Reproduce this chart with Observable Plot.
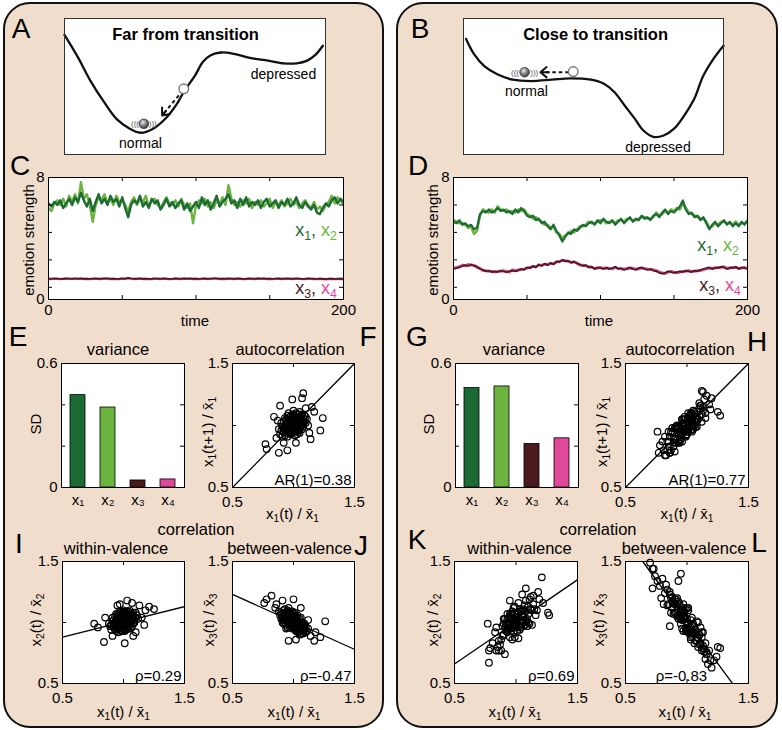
<!DOCTYPE html>
<html><head><meta charset="utf-8">
<script src="https://cdn.jsdelivr.net/npm/d3@7"></script>
<script src="https://cdn.jsdelivr.net/npm/@observablehq/plot@0.6"></script>
<style>
body{margin:0;background:#fff;font-family:"Liberation Sans",Arial,Helvetica,sans-serif;}
#root{position:relative;width:782px;height:730px;overflow:hidden;background:#fff;}
.panel{position:absolute;box-sizing:border-box;border:2.5px solid #111;border-radius:27px;background:#f1ddcc;}
.t{position:absolute;white-space:nowrap;transform:translate(-50%,-50%);line-height:1;color:#000;}
.rot{transform:translate(-50%,-50%) rotate(-90deg);}
sub{font-size:0.68em;vertical-align:-0.3em;line-height:0;}
</style></head>
<body><div id="root"></div>
<script>
// ---------------- DATA ----------------
const timeSteps = d3.range(0, 201, 2);

// Panel C (far from transition): emotion strength time series
const farX1 = [
6.3,6.1,6.4,6.2,6.5,6.0,6.3,6.6,6.2,6.7,
6.4,7.0,6.5,6.1,6.6,5.8,6.4,6.9,6.3,6.6,
6.2,6.8,6.4,6.6,6.1,6.7,6.0,5.4,6.2,6.5,
6.3,6.8,6.1,6.4,6.0,6.6,6.3,6.5,5.9,6.2,
6.6,6.1,6.4,6.0,6.3,6.5,5.9,6.3,5.8,6.1,
6.4,6.0,6.7,6.2,6.5,5.9,6.3,6.8,6.1,6.4,
6.6,6.9,6.3,6.5,6.0,6.6,6.2,6.7,6.1,6.4,
6.2,6.5,6.0,6.4,6.6,6.1,6.3,6.5,6.0,6.4,
6.2,6.6,6.1,6.3,6.7,6.2,6.0,6.4,6.1,5.9,
6.2,5.7,5.6,6.0,6.3,6.1,6.5,6.7,6.3,6.6,
6.4];
const farX2 = [
6.0,5.8,6.3,6.5,6.2,6.6,6.1,6.8,6.4,6.9,
6.3,7.7,6.6,6.9,6.2,5.1,6.2,6.7,6.5,6.9,
6.3,6.6,6.2,6.8,6.4,6.5,6.2,5.8,6.4,6.7,
6.2,6.6,6.4,6.8,6.1,6.5,6.6,6.2,6.0,6.4,
6.7,6.3,6.2,6.5,6.1,6.6,6.2,6.0,6.3,5.0,
6.2,6.5,6.3,6.6,6.1,6.4,6.0,6.5,6.3,6.7,
6.2,7.5,6.6,6.2,6.4,6.1,6.5,6.3,6.6,6.0,
6.4,6.2,6.5,6.1,6.3,6.6,6.0,6.4,6.2,6.5,
6.1,6.3,6.6,6.2,6.4,6.0,6.3,6.5,6.2,6.0,
6.4,5.9,6.1,5.8,6.2,6.4,6.8,6.3,6.7,6.5,
6.2];
const farX3 = [
1.37,1.36,1.38,1.37,1.35,1.36,1.38,1.37,1.36,1.39,
1.37,1.38,1.36,1.37,1.35,1.37,1.38,1.36,1.37,1.39,
1.38,1.36,1.37,1.35,1.36,1.38,1.37,1.42,1.38,1.36,
1.37,1.38,1.36,1.37,1.35,1.36,1.38,1.37,1.36,1.38,
1.37,1.35,1.36,1.38,1.37,1.36,1.39,1.37,1.38,1.36,
1.37,1.35,1.37,1.38,1.36,1.37,1.39,1.38,1.36,1.37,
1.36,1.38,1.37,1.36,1.38,1.37,1.35,1.36,1.38,1.37,
1.36,1.39,1.37,1.38,1.36,1.37,1.35,1.37,1.38,1.36,
1.37,1.38,1.37,1.36,1.38,1.37,1.35,1.36,1.38,1.37,
1.36,1.35,1.37,1.36,1.34,1.36,1.37,1.35,1.36,1.37,
1.36];
const farX4 = [
1.35,1.34,1.36,1.35,1.33,1.35,1.36,1.35,1.34,1.36,
1.35,1.36,1.34,1.35,1.33,1.35,1.36,1.34,1.35,1.36,
1.35,1.34,1.35,1.33,1.34,1.36,1.35,1.39,1.36,1.34,
1.35,1.36,1.34,1.35,1.33,1.34,1.36,1.35,1.34,1.36,
1.35,1.33,1.34,1.36,1.35,1.34,1.37,1.35,1.36,1.34,
1.35,1.33,1.35,1.36,1.34,1.35,1.37,1.36,1.34,1.35,
1.34,1.36,1.35,1.34,1.36,1.35,1.33,1.34,1.36,1.35,
1.34,1.37,1.35,1.36,1.34,1.35,1.33,1.35,1.36,1.34,
1.35,1.36,1.35,1.34,1.36,1.35,1.33,1.34,1.36,1.35,
1.34,1.33,1.35,1.34,1.32,1.34,1.35,1.33,1.34,1.35,
1.34];

// Panel D (close to transition)
const closeX1 = [
5.1,5.0,5.2,4.9,5.0,4.8,4.9,4.6,4.7,5.6,
5.8,5.7,5.9,5.7,5.8,6.0,5.8,5.9,5.7,5.8,
5.6,5.9,5.7,6.0,5.8,5.5,5.4,5.5,5.2,5.3,
5.0,5.1,4.8,4.6,4.9,4.5,4.2,3.8,4.1,4.4,
4.3,4.6,4.5,4.7,4.9,4.8,5.0,5.1,4.9,5.2,
5.0,5.3,5.1,5.0,5.2,4.9,5.1,5.3,5.0,5.2,
5.4,5.1,5.3,5.2,5.5,5.3,5.4,5.2,5.5,5.6,
5.4,5.7,5.9,5.6,5.8,5.7,5.9,6.1,6.5,5.9,
5.6,5.7,5.4,5.5,5.2,5.4,5.0,4.6,4.9,5.1,
4.8,5.0,5.2,4.9,5.1,4.8,5.0,4.8,5.1,4.9,
5.2];
const closeX2 = [
5.2,5.1,5.0,5.0,4.9,4.7,4.8,4.3,4.5,5.5,
5.9,5.8,5.7,5.9,5.7,6.1,5.9,5.8,5.9,5.7,
5.8,5.7,5.9,5.8,5.9,5.6,5.5,5.3,5.4,5.2,
5.1,4.9,4.9,4.7,4.8,4.4,4.3,4.0,4.2,4.3,
4.5,4.4,4.6,4.8,4.8,4.9,5.1,5.0,5.0,5.1,
5.2,5.2,5.0,5.1,5.1,5.0,5.2,5.2,5.1,5.3,
5.3,5.2,5.2,5.3,5.4,5.4,5.3,5.3,5.4,5.7,
5.5,5.6,5.8,5.7,5.9,5.8,6.0,5.9,6.3,6.0,
5.7,5.6,5.5,5.4,5.3,5.3,5.1,4.7,4.8,5.0,
4.9,5.1,5.1,5.0,5.0,4.9,5.1,4.9,5.0,5.0,
5.1];
const closeX3 = [
2.0,2.05,2.1,2.2,2.25,2.2,2.3,2.2,2.15,2.0,
1.95,1.85,1.9,1.8,1.85,1.8,1.9,1.85,1.8,1.85,
1.9,1.85,1.9,2.0,1.95,2.1,2.05,2.2,2.1,2.3,
2.2,2.35,2.25,2.4,2.3,2.5,2.45,2.6,2.5,2.55,
2.4,2.5,2.35,2.3,2.2,2.25,2.1,2.15,2.0,2.1,
2.05,2.0,2.1,2.0,2.05,2.15,2.0,2.05,1.95,2.0,
2.1,2.0,1.95,2.05,2.1,2.0,1.95,2.0,1.9,1.85,
1.75,1.7,1.75,1.85,1.8,1.75,1.8,1.85,1.8,1.9,
1.85,1.8,1.9,1.85,1.95,2.0,2.05,2.1,2.0,2.1,
2.05,2.15,2.1,2.0,2.1,2.05,2.15,2.0,2.1,2.05,
2.0];
const closeX4 = [
2.05,2.1,2.15,2.25,2.2,2.3,2.25,2.25,2.1,2.05,
1.9,1.9,1.85,1.85,1.8,1.85,1.85,1.9,1.85,1.8,
1.95,1.9,1.95,1.95,2.0,2.05,2.1,2.15,2.15,2.25,
2.25,2.3,2.3,2.35,2.35,2.45,2.5,2.55,2.55,2.5,
2.45,2.45,2.4,2.25,2.25,2.2,2.15,2.1,2.05,2.05,
2.1,2.05,2.05,2.05,2.0,2.1,2.05,2.0,2.0,2.05,
2.05,2.05,2.0,2.0,2.05,2.05,2.0,1.95,1.95,1.9,
1.8,1.75,1.7,1.8,1.85,1.8,1.75,1.8,1.85,1.85,
1.9,1.85,1.85,1.9,1.9,1.95,2.0,2.05,2.05,2.05,
2.1,2.1,2.15,2.05,2.05,2.1,2.1,2.05,2.05,2.1,
2.05];

// Panels E, G: standard deviations
const barNames = ["x\u2081", "x\u2082", "x\u2083", "x\u2084"];
const barColors = ["#1d6b34", "#6cb43f", "#4a1a1c", "#e0489a"];
const farSD = [0.447, 0.387, 0.034, 0.039];
const closeSD = [0.481, 0.489, 0.211, 0.238];

// Panels F, H: x1(t) vs x1(t+1), relative to mean
const farAR = [
[1.00,1.01],[0.97,0.99],[1.03,1.02],[0.95,0.97],[1.05,1.04],[0.99,1.06],[1.02,0.95],[0.93,1.00],[1.07,1.01],[0.98,0.93],
[1.01,1.08],[0.96,1.03],[1.04,0.98],[0.92,0.95],[1.08,1.06],[1.00,0.96],[0.94,1.05],[1.06,0.99],[0.99,1.02],[1.03,1.09],
[0.97,0.94],[1.02,1.04],[0.91,0.99],[1.09,1.03],[0.98,1.00],[1.05,0.94],[0.95,1.08],[1.01,0.98],[0.96,0.96],[1.04,1.07],
[0.93,0.92],[1.07,1.05],[1.00,1.04],[0.97,1.07],[1.03,0.96],[0.90,0.96],[1.10,1.02],[0.99,0.97],[1.02,1.01],[0.95,1.01],
[1.06,1.08],[0.98,1.05],[1.01,0.92],[0.94,0.98],[1.08,0.99],[0.96,1.10],[1.04,1.01],[0.92,1.03],[1.00,0.99],[1.05,1.11],
[0.97,1.02],[1.03,0.93],[0.89,0.93],[1.11,1.05],[0.99,1.09],[1.02,0.98],[0.95,0.94],[1.07,0.97],[0.98,0.97],[1.01,1.05],
[0.93,1.06],[1.06,1.02],[0.96,0.99],[1.04,1.04],[0.91,0.91],[1.09,1.08],[1.00,1.07],[0.97,0.96],[1.03,1.06],[0.94,1.02],
[1.12,1.00],[0.88,0.97],[1.05,0.97],[0.98,1.03],[1.02,1.10],[0.95,0.99],[1.08,1.03],[0.99,0.94],[1.01,1.03],[0.92,0.98],
[1.06,1.05],[0.96,1.06],[1.04,0.95],[0.97,1.00],[1.10,1.07],[0.90,1.02],[1.00,1.12],[1.03,1.00],[0.94,0.95],[1.07,1.09],
[0.99,1.00],[1.02,0.97],[0.93,0.97],[1.05,1.02],[0.98,0.98],[1.01,1.00],[0.96,1.04],[1.04,1.09],[0.95,0.91],[1.08,1.01],
[1.08,1.26],[1.07,1.22],[0.99,1.21],[0.89,1.16],[0.84,1.07],[1.15,1.15],[1.24,1.06],[0.77,0.85],[0.78,0.81],[0.88,0.78],
[0.95,0.80],[1.22,0.96],[1.14,0.89],[1.17,1.11],[0.86,0.90],[1.13,0.94],[0.87,1.04],[1.10,1.14],[0.92,0.86],[1.02,0.86]];
const closeAR = [
[0.80,0.87],[0.82,0.76],[0.84,0.87],[0.83,0.76],[0.86,0.91],[0.85,0.83],[0.88,0.98],[0.87,0.80],[0.89,0.90],[0.90,0.86],
[0.91,0.86],[0.92,1.00],[0.90,0.89],[0.93,0.97],[0.94,0.86],[0.92,0.98],[0.95,0.92],[0.96,1.05],[0.94,0.88],[0.97,0.99],
[0.98,1.02],[0.96,0.87],[0.99,1.05],[1.00,0.98],[0.97,1.05],[1.01,0.96],[1.02,1.03],[0.99,0.92],[1.03,1.08],[1.00,0.97],
[1.04,0.97],[1.02,1.05],[1.05,1.01],[1.01,1.10],[1.06,1.04],[1.03,1.09],[1.07,0.99],[1.04,1.06],[1.08,1.03],[1.05,1.12],
[1.09,1.11],[1.06,1.00],[1.10,1.18],[1.08,1.05],[1.11,1.16],[1.12,1.03],[1.10,1.14],[1.13,1.12],[1.14,1.21],[1.15,1.10],
[0.95,0.92],[0.98,1.05],[1.01,0.95],[0.93,0.94],[1.04,0.95],[0.97,1.02],[1.06,1.04],[0.91,0.99],[1.02,0.98],[0.99,1.02],
[0.88,0.94],[1.07,1.03],[0.96,1.05],[1.03,0.96],[0.94,0.96],[1.00,0.95],[0.97,1.00],[1.05,0.97],[0.92,0.99],[1.08,1.07],
[0.86,0.78],[1.11,1.16],[0.98,0.96],[1.01,1.07],[0.95,0.89],[1.04,1.05],[0.90,0.98],[1.09,1.05],[1.00,1.03],[0.93,0.86],
[1.06,1.11],[0.99,0.91],[1.02,1.06],[0.96,0.93],[1.03,1.10],[0.89,0.83],[1.13,1.15],[0.98,1.07],[1.05,1.00],[0.94,0.95],
[1.07,1.05],[0.91,0.97],[1.00,0.93],[0.97,1.01],[1.12,1.09],[0.87,0.95],[1.08,0.99],[1.01,1.06],[0.95,0.94],[1.04,1.10],
[0.77,0.78],[0.76,0.95],[0.78,0.84],[0.81,0.80],[0.84,0.80],[0.86,0.78],[0.90,0.79],[1.12,1.28],[1.13,1.27],[1.27,1.08],
[1.25,1.11],[1.20,1.22],[1.18,1.17],[1.16,1.24],[1.15,1.06],[0.85,0.95],[1.19,1.13],[0.82,0.91]];

// Panels I, K: within-valence (x1 vs x2); J, L: between-valence (x1 vs x3)
const farWithin = [
[1.00,1.00],[0.97,0.98],[1.03,1.03],[0.94,1.02],[1.06,0.99],[0.99,1.06],[1.02,0.94],[0.92,0.96],[1.08,1.05],[0.96,1.04],
[1.04,0.97],[0.98,0.93],[1.01,1.08],[0.93,0.99],[1.07,1.02],[0.95,0.95],[1.05,1.06],[1.00,0.97],[0.97,1.07],[1.03,0.99],
[0.91,1.01],[1.09,1.00],[0.99,1.02],[1.02,1.05],[0.96,0.92],[1.04,1.09],[0.94,0.97],[1.06,0.95],[0.98,1.03],[1.01,0.99],
[0.90,0.94],[1.10,1.04],[1.00,1.10],[0.97,0.95],[1.03,1.06],[0.93,1.05],[1.07,0.97],[0.99,0.96],[1.02,1.01],[0.95,1.00],
[1.05,1.03],[0.98,1.08],[1.01,0.93],[0.92,0.99],[1.08,1.08],[0.96,1.01],[1.04,1.00],[0.94,0.93],[1.06,1.07],[1.00,1.04],
[0.97,1.01],[1.03,0.95],[0.89,0.97],[1.11,1.06],[0.99,0.99],[1.02,1.09],[0.95,1.06],[1.05,0.98],[0.98,0.97],[1.01,1.03],
[0.93,0.94],[1.07,1.04],[0.96,0.98],[1.04,1.05],[0.91,1.04],[1.09,1.02],[1.00,0.94],[0.97,1.04],[1.03,1.01],[0.94,1.00],
[1.12,1.03],[0.88,0.99],[1.06,1.01],[0.98,0.99],[1.02,0.98],[0.95,0.97],[1.08,0.99],[0.99,1.09],[1.01,1.06],[0.92,1.02],
[1.05,1.10],[0.96,0.95],[1.04,1.03],[0.97,1.09],[1.10,1.08],[0.90,0.98],[1.00,1.02],[1.03,1.08],[0.94,1.07],[1.07,1.07],
[0.99,0.93],[1.02,1.03],[0.93,0.97],[1.05,1.00],[0.98,1.01],[1.01,1.01],[0.96,1.07],[1.04,0.95],[0.95,1.03],[1.08,1.03],
[0.76,0.99],[0.79,0.96],[0.84,0.84],[1.01,0.83],[0.91,0.89],[1.03,1.18],[0.97,1.15],[1.07,1.16],[1.18,1.10],[1.21,1.13],
[1.25,1.11],[1.15,1.04],[1.17,0.98],[1.08,0.89],[1.10,0.92],[0.85,1.04],[1.13,1.14],[0.95,1.14]];
const farBetween = [
[1.00,1.00],[0.96,1.03],[1.04,0.97],[0.93,1.05],[1.07,0.96],[0.99,1.06],[1.02,0.93],[0.94,0.98],[1.06,1.01],[0.97,1.08],
[1.03,0.95],[0.91,1.07],[1.09,0.94],[0.98,0.97],[1.01,1.04],[0.95,1.01],[1.05,0.99],[0.92,1.10],[1.08,0.91],[1.00,1.07],
[0.97,0.99],[1.03,1.02],[0.94,1.04],[1.06,0.94],[0.99,1.01],[1.02,0.97],[0.90,1.03],[1.10,0.97],[0.96,1.09],[1.04,0.92],
[0.93,1.00],[1.07,1.00],[0.98,1.05],[1.01,0.96],[0.95,1.07],[1.05,0.95],[0.92,1.02],[1.08,0.98],[1.00,0.95],[0.97,1.04],
[1.03,1.06],[0.94,1.08],[1.06,0.91],[0.99,0.98],[1.02,1.02],[0.89,1.06],[1.11,0.93],[0.96,1.00],[1.04,0.99],[0.93,1.11],
[1.07,0.93],[0.98,1.02],[1.01,1.08],[0.95,0.96],[1.05,1.03],[0.91,1.04],[1.09,0.96],[1.00,1.03],[0.97,0.96],[1.03,0.98],
[0.94,1.02],[1.06,0.97],[0.99,1.09],[1.02,0.94],[0.90,1.08],[1.10,0.92],[0.96,1.05],[1.04,1.01],[0.92,0.99],[1.08,0.95],
[0.98,0.99],[1.01,1.00],[0.95,1.04],[1.05,0.90],[0.93,1.07],[1.07,0.98],[1.00,1.05],[0.97,1.01],[1.03,0.93],[0.88,1.09],
[1.12,0.95],[0.94,0.95],[1.06,1.04],[0.99,0.95],[1.02,1.05],[0.96,1.12],[1.04,0.96],[0.91,1.00],[1.09,0.99],[0.98,1.07],
[1.01,0.98],[0.95,1.10],[1.05,0.97],[0.93,1.03],[1.07,0.95],[1.00,1.01],[0.97,1.06],[1.03,1.00],[0.92,1.06],[1.08,0.93],
[0.78,1.19],[0.76,1.16],[0.82,1.22],[0.91,1.18],[1.00,1.19],[0.86,1.15],[1.26,1.01],[1.17,0.85],[1.22,0.88],[0.96,0.85],
[1.14,0.89],[1.02,0.86],[0.85,1.12],[1.12,1.02],[1.18,0.92],[1.06,1.12]];
const closeWithin = [
[1.00,0.98],[0.96,1.03],[1.04,0.96],[0.92,0.99],[1.08,1.02],[0.98,1.12],[1.02,0.87],[0.94,1.04],[1.06,1.00],[0.90,0.99],
[1.10,1.13],[0.97,0.86],[1.03,1.11],[0.95,0.98],[1.05,1.06],[0.88,0.86],[1.12,1.11],[0.99,1.07],[1.01,1.00],[0.93,0.92],
[1.07,0.98],[0.96,1.07],[1.04,0.96],[0.91,1.03],[1.09,0.97],[0.98,0.96],[1.02,1.16],[0.86,0.85],[1.14,1.15],[1.00,0.96],
[0.94,1.00],[1.06,1.05],[0.97,1.09],[1.03,0.94],[0.89,0.97],[1.11,0.99],[0.95,0.95],[1.05,0.99],[0.99,1.13],[1.01,0.93],
[0.92,0.95],[1.08,1.18],[0.85,0.80],[1.15,1.11],[0.98,0.92],[1.02,1.05],[0.93,0.94],[1.07,1.10],[0.96,0.95],[1.04,1.09],
[0.90,0.90],[1.10,1.07],[1.00,1.04],[0.97,1.01],[1.03,1.02],[0.87,0.82],[1.13,1.10],[0.94,1.00],[1.06,1.11],[0.99,0.88],
[1.01,1.02],[0.91,0.96],[1.09,1.03],[0.95,1.07],[1.05,1.01],[0.84,0.96],[1.16,1.06],[0.98,0.99],[1.02,0.98],[0.93,1.07],
[1.07,1.14],[0.88,0.77],[1.12,1.11],[0.96,0.93],[1.04,1.09],[1.00,1.02],[0.92,0.93],[1.08,1.01],[0.97,1.07],[1.03,1.01],
[0.89,0.89],[1.11,1.19],[0.94,0.96],[1.06,1.02],[0.86,0.77],[1.14,1.22],[0.99,0.98],[1.01,1.08],[0.95,0.88],[1.05,1.10],
[0.90,1.03],[1.10,1.00],[0.98,1.02],[1.02,0.97],[0.83,0.92],[1.17,1.10],[0.93,1.03],[1.07,0.98],[0.97,0.99],[1.03,0.96],
[1.21,1.37],[0.78,0.67],[0.77,0.99],[0.91,0.74],[1.27,1.06],[1.08,1.28],[0.78,0.77],[0.79,0.79],[1.05,1.23],[1.12,1.21],
[1.19,1.19],[1.22,1.16],[0.81,0.83],[0.84,0.77],[1.18,1.25],[1.13,0.98],[0.95,1.18],[1.26,1.08]];
const closeBetween = [
[1.00,0.93],[0.96,1.08],[1.04,0.91],[0.92,1.20],[1.08,0.88],[0.98,1.04],[1.02,0.95],[0.94,1.06],[1.06,0.91],[0.90,1.19],
[1.10,0.82],[0.97,1.15],[1.03,0.86],[0.88,1.17],[1.12,0.77],[0.99,1.11],[1.01,0.92],[0.93,1.17],[1.07,0.85],[0.95,1.03],
[1.05,0.92],[0.86,1.23],[1.14,0.78],[0.98,1.09],[1.02,0.91],[0.91,1.15],[1.09,1.00],[0.96,0.95],[1.04,1.04],[0.84,1.14],
[1.16,0.76],[1.00,1.12],[0.94,1.05],[1.06,0.91],[0.89,1.07],[1.11,0.96],[0.97,0.93],[1.03,1.02],[0.92,1.05],[1.08,1.01],
[0.87,1.08],[1.13,0.92],[0.99,0.95],[1.01,1.12],[0.95,0.99],[1.05,0.99],[0.90,1.15],[1.10,0.90],[0.98,1.03],[1.02,0.93],
[0.85,1.15],[1.15,0.83],[0.93,1.03],[1.07,0.92],[1.00,0.94],[0.96,1.11],[1.04,0.89],[0.88,1.21],[1.12,0.79],[0.97,1.04],
[1.03,0.96],[0.91,1.08],[1.09,0.87],[0.94,1.15],[1.06,0.83],[0.82,1.24],[1.18,0.77],[0.99,1.01],[1.01,0.99],[0.95,1.03],
[1.05,0.97],[0.89,1.16],[1.11,0.83],[0.92,1.13],[1.08,0.85],[0.86,1.25],[1.14,0.76],[0.98,1.05],[1.02,0.94],[0.93,1.06],
[1.07,0.94],[0.87,1.20],[1.13,0.81],[1.00,1.03],[0.96,1.02],[1.04,0.98],[0.90,1.08],[1.10,0.90],[0.84,1.27],[1.16,0.74],
[0.97,1.12],[1.03,0.88],[0.91,1.19],[1.09,0.80],[0.95,1.09],[1.05,0.91],[0.99,0.93],[1.01,1.10],[0.88,1.12],[1.12,0.88],
[0.70,1.49],[0.72,1.44],[0.73,1.44],[0.76,1.34],[0.74,1.38],[0.78,1.30],[0.80,1.36],[0.72,1.28],[0.81,1.15],[0.83,1.31],
[1.19,0.69],[1.22,0.69],[1.20,0.63],[1.24,0.72],[1.27,0.79],[1.17,0.66],[1.15,0.70],[1.12,0.92],[1.25,0.80],[0.79,1.20],
[0.93,1.34],[0.86,0.97],[0.95,1.40]];

// fitted lines (end points)
const diagonalFit = [[0.5,0.5],[1.5,1.5]];
const farWithinFit = [[0.5,0.88],[1.5,1.13]];
const farBetweenFit = [[0.5,1.23],[1.5,0.78]];
const closeWithinFit = [[0.5,0.66],[1.5,1.35]];
const closeBetweenFit = [[0.64,1.5],[1.37,0.5]];

// Panels A, B: potential landscapes (position, potential), schematic
const farLandscape = [[0.00,0.88],[0.05,0.72],[0.10,0.54],[0.15,0.39],[0.20,0.26],[0.25,0.19],[0.29,0.16],[0.34,0.19],[0.39,0.27],[0.43,0.37],[0.46,0.47],[0.50,0.58],[0.53,0.68],[0.56,0.73],[0.60,0.75],[0.65,0.74],[0.71,0.71],[0.78,0.69],[0.84,0.67],[0.89,0.67],[0.93,0.69],[0.96,0.73],[0.99,0.80]];
const closeLandscape = [[0.01,0.85],[0.04,0.74],[0.08,0.65],[0.13,0.59],[0.19,0.55],[0.26,0.54],[0.34,0.55],[0.41,0.56],[0.49,0.55],[0.54,0.52],[0.58,0.46],[0.62,0.36],[0.66,0.26],[0.69,0.18],[0.73,0.13],[0.77,0.14],[0.81,0.19],[0.85,0.29],[0.89,0.42],[0.92,0.57],[0.96,0.70],[1.00,0.80]];
const farBall = {x:0.304, y:0.226}, farHollow = {x:0.457, y:0.483};
const farArrow = {x1:0.438, y1:0.434, x2:0.374, y2:0.287};
const farVib = [{x:0.270, y:0.226, t:"((("}, {x:0.338, y:0.226, t:")))"}];
const farLabels = [{x:0.291, y:0.081, text:"normal"}, {x:0.839, y:0.588, text:"depressed"}];
const farTitle = {x:0.464, y:0.882, text:"Far from transition"};
const closeBall = {x:0.235, y:0.605}, closeHollow = {x:0.422, y:0.610};
const closeArrow = {x1:0.405, y1:0.605, x2:0.296, y2:0.605};
const closeVib = [{x:0.198, y:0.605, t:"((("}, {x:0.272, y:0.605, t:")))"}];
const closeLabels = [{x:0.242, y:0.463, text:"normal"}, {x:0.748, y:0.048, text:"depressed"}];
const closeTitle = {x:0.508, y:0.882, text:"Close to transition"};

// ticks
const timeTicks = [50, 100, 150], timeLabels = [0, 200];
const levelTicks = [0.8, 2.6, 4.4, 6.2], levelLabels = [0, 8];
const sdTicks = [0.2, 0.4], sdLabels = [0, 0.6];
const unitTicks = [1], unitLabels = [0.5, 1.5];

// ---------------- DRAWING ----------------
const root = document.getElementById("root");
const FONT = '"Liberation Sans", Arial, Helvetica, sans-serif';
const DG = barColors[0], LG = barColors[1], BR = barColors[2], PK = barColors[3];
const baseStyle = {background: "transparent", fontFamily: FONT, fontSize: "15px", color: "black", overflow: "visible"};

for (const p of [[3,2,381,726],[396,2,382,726]]) {
  const d = document.createElement("div"); d.className = "panel";
  Object.assign(d.style, {left: p[0]+"px", top: p[1]+"px", width: p[2]+"px", height: p[3]+"px"});
  root.appendChild(d);
}

function place(svg, left, top) {
  svg.style.position = "absolute"; svg.style.left = left + "px"; svg.style.top = top + "px";
  svg.style.background = "transparent"; svg.style.maxWidth = "none"; svg.style.overflow = "visible";
  root.appendChild(svg);
}
function inwardTicks(xt, yt, W, H, len = 4) {
  const o = {stroke: "black", strokeWidth: 1};
  const m = [];
  if (xt) m.push(Plot.tickX(xt, {x: d => d, insetTop: H - len, ...o}), Plot.tickX(xt, {x: d => d, insetBottom: H - len, ...o}));
  if (yt) m.push(Plot.tickY(yt, {y: d => d, insetRight: W - len, ...o}), Plot.tickY(yt, {y: d => d, insetLeft: W - len, ...o}));
  return m;
}

function landscape(L, box, gid) {
  const [bx, by, W, H] = box;
  const svg = Plot.plot({
    width: W, height: H, margin: 0,
    x: {domain: [0, 1], axis: null}, y: {domain: [0, 1], axis: null},
    style: baseStyle,
    marks: [
      Plot.frame({fill: "white"}),
      Plot.line(L.curve, {x: d => d[0], y: d => d[1], curve: "catmull-rom", stroke: "#111", strokeWidth: 2.3}),
      Plot.link([L.arrow], {x1: "x1", y1: "y1", x2: "x2", y2: "y2", stroke: "#111", strokeWidth: 2, strokeDasharray: "3.5,3"}),
      Plot.arrow([L.arrow], {x1: "x1", y1: "y1", x2: "x2", y2: "y2", stroke: "#111", strokeWidth: 2, headLength: 6, headAngle: 80, insetStart: 20}),
      Plot.dot([L.hollow], {x: "x", y: "y", r: 4.8, fill: "white", stroke: "#777", strokeWidth: 1.4}),
      Plot.text(L.vib, {x: "x", y: "y", text: "t", fontSize: 8, fill: "#555"}),
      Plot.dot([L.ball], {x: "x", y: "y", r: 4.8, fill: `url(#${gid})`, stroke: "#333", strokeWidth: 0.8}),
      Plot.text(L.labels, {x: "x", y: "y", text: "text", fontSize: 14}),
      Plot.text([L.title], {x: "x", y: "y", text: "text", fontSize: 16.5, fontWeight: "bold"}),
      Plot.frame({stroke: "#333"})
    ]
  });
  d3.select(svg).insert("defs", ":first-child").html(`<radialGradient id="${gid}" cx="0.4" cy="0.35" r="0.65"><stop offset="0" stop-color="#eeeeee"/><stop offset="0.55" stop-color="#808080"/><stop offset="1" stop-color="#3a3a3a"/></radialGradient>`);
  place(svg, bx, by);
}

function timePlot(series, box) {
  const [bx, by, W, H] = box;
  const mL = 30, mR = 18, mT = 8, mB = 24;
  const marks = [Plot.frame({fill: "white"})];
  for (const s of series) marks.push(Plot.line(s.values, {x: (d, i) => timeSteps[i], y: d => d, stroke: s.color, strokeWidth: s.width, strokeLinejoin: "round", clip: true}));
  marks.push(...inwardTicks(timeTicks, levelTicks, W, H),
    Plot.axisX(timeLabels, {tickSize: 0, tickPadding: 5, label: null, tickFormat: d => String(d)}),
    Plot.axisY(levelLabels, {tickSize: 0, tickPadding: 4, label: null, tickFormat: d => String(d)}),
    Plot.frame({stroke: "black"}));
  const svg = Plot.plot({width: W + mL + mR, height: H + mT + mB, marginLeft: mL, marginRight: mR, marginTop: mT, marginBottom: mB,
    x: {domain: [0, 200]}, y: {domain: [0, 8]}, style: baseStyle, marks});
  place(svg, bx - mL, by - mT);
}

function barPlot(sd, box) {
  const [bx, by, W, H] = box;
  const mL = 32, mR = 8, mT = 8, mB = 26;
  const data = barNames.map((name, i) => ({name, sd: sd[i], color: barColors[i]}));
  const svg = Plot.plot({width: W + mL + mR, height: H + mT + mB, marginLeft: mL, marginRight: mR, marginTop: mT, marginBottom: mB,
    x: {type: "band", domain: barNames, paddingInner: 0.5, paddingOuter: 0.25}, y: {domain: [0, 0.6]}, color: {type: "identity"},
    style: baseStyle,
    marks: [
      Plot.frame({fill: "white"}),
      Plot.barY(data, {x: "name", y: "sd", fill: "color", stroke: "black", strokeWidth: 0.8}),
      ...inwardTicks(null, sdTicks, W, H),
      Plot.axisX({tickSize: 0, tickPadding: 7, label: null}),
      Plot.axisY(sdLabels, {tickSize: 0, tickPadding: 4, label: null, tickFormat: d => String(d)}),
      Plot.frame({stroke: "black"})
    ]});
  place(svg, bx - mL, by - mT);
}

function scatterPlot(points, fit, note, box) {
  const [bx, by, W, H] = box;
  const mL = 32, mR = 16, mT = 8, mB = 28;
  const noteMark = note.x == null
    ? Plot.text([note], {text: "text", frameAnchor: "bottom-right", dx: -3, dy: -3, textAnchor: "end", lineAnchor: "bottom"})
    : Plot.text([note], {text: "text", x: "x", frameAnchor: "bottom", dy: -3, lineAnchor: "bottom"});
  const svg = Plot.plot({width: W + mL + mR, height: H + mT + mB, marginLeft: mL, marginRight: mR, marginTop: mT, marginBottom: mB,
    x: {domain: [0.5, 1.5]}, y: {domain: [0.5, 1.5]}, style: baseStyle,
    marks: [
      Plot.frame({fill: "white"}),
      Plot.line(fit, {x: d => d[0], y: d => d[1], stroke: "black", strokeWidth: 1.3, clip: true}),
      Plot.dot(points, {x: d => d[0], y: d => d[1], r: 3.3, stroke: "black", strokeWidth: 1.2, fill: "none"}),
      ...inwardTicks(unitTicks, unitTicks, W, H),
      Plot.axisX(unitLabels, {tickSize: 0, tickPadding: 9, label: null, tickFormat: d => String(d)}),
      Plot.axisY(unitLabels, {tickSize: 0, tickPadding: 4, label: null, tickFormat: d => String(d)}),
      noteMark,
      Plot.frame({stroke: "black"})
    ]});
  place(svg, bx - mL, by - mT);
}

// A, B
landscape({curve: farLandscape, ball: farBall, hollow: farHollow, arrow: farArrow, vib: farVib, labels: farLabels, title: farTitle}, [64, 18, 261, 136], "ballA");
landscape({curve: closeLandscape, ball: closeBall, hollow: closeHollow, arrow: closeArrow, vib: closeVib, labels: closeLabels, title: closeTitle}, [463, 18, 260, 136], "ballB");
// C, D
timePlot([{values: farX2, color: LG, width: 2.4}, {values: farX1, color: DG, width: 2.4}, {values: farX4, color: PK, width: 2.2}, {values: farX3, color: BR, width: 1.8}], [48, 177, 295, 122]);
timePlot([{values: closeX2, color: LG, width: 2.6}, {values: closeX1, color: DG, width: 2.2}, {values: closeX4, color: PK, width: 2.8}, {values: closeX3, color: BR, width: 1.8}], [453, 177, 294, 122]);
// E, G
barPlot(farSD, [61, 363, 123, 124]);
barPlot(closeSD, [455, 363, 123, 124]);
// F, H
scatterPlot(farAR, diagonalFit, {text: "AR(1)=0.38"}, [232, 363, 122, 124]);
scatterPlot(closeAR, diagonalFit, {text: "AR(1)=0.77"}, [625, 363, 123, 124]);
// I, J, K, L
scatterPlot(farWithin, farWithinFit, {text: "\u03c1=0.29"}, [62, 561, 122, 122]);
scatterPlot(farBetween, farBetweenFit, {text: "\u03c1=-0.47"}, [232, 561, 122, 122]);
scatterPlot(closeWithin, closeWithinFit, {text: "\u03c1=0.69"}, [454, 561, 123, 122]);
scatterPlot(closeBetween, closeBetweenFit, {text: "\u03c1=-0.83", x: 0.955}, [625, 561, 123, 122]);

// ---------------- TEXT ----------------
function label(html, x, y, size, o = {}) {
  const d = document.createElement("div");
  d.className = "t" + (o.rot ? " rot" : "");
  d.innerHTML = html;
  d.style.left = x + "px"; d.style.top = y + "px"; d.style.fontSize = size + "px";
  if (o.bold) d.style.fontWeight = "bold";
  root.appendChild(d);
}
const sub = n => `<sub>${n}</sub>`;
const xbar = n => `x\u0304${sub(n)}`;
const col = (c, s) => `<span style="color:${c}">${s}</span>`;

for (const [s, x, y] of [["A",21,29],["B",420,29],["C",20,166],["D",418,166],["E",18,337],["F",368,337],["G",417,337],["H",757,342],["I",19,544],["J",361,546],["K",417,540],["L",759,543]]) label(s, x, y, 28);

for (const dx of [0, 1]) {
  label("emotion strength", dx ? 432 : 28, 240, 15, {rot: true});
  label("time", dx ? 599 : 195, 320, 15);
  label("variance", dx ? 514 : 118, 349, 16.5);
  label("autocorrelation", dx ? 680 : 290, 349, 16.5);
  label("SD", dx ? 428 : 35, 424, 15, {rot: true});
  label(`x${sub(1)}(t+1) / ${xbar(1)}`, dx ? 601 : 207, 432, 15, {rot: true});
  label(`x${sub(1)}(t) / ${xbar(1)}`, dx ? 687 : 292.5, 513, 15);
  label("correlation", dx ? 598 : 196, 529, 16.5);
  label("within-valence", dx ? 519.5 : 116, 548, 16.5);
  label("between-valence", dx ? 684 : 289.5, 548, 16.5);
  label(`x${sub(2)}(t) / ${xbar(2)}`, dx ? 432 : 35, 620, 15, {rot: true});
  label(`x${sub(3)}(t) / ${xbar(3)}`, dx ? 598 : 208, 620, 15, {rot: true});
  label(`x${sub(1)}(t) / ${xbar(1)}`, dx ? 515 : 123.5, 711, 15);
  label(`x${sub(1)}(t) / ${xbar(1)}`, dx ? 685 : 294, 711, 15);
}
label(col(DG, `x${sub(1)}, `) + col(LG, `x${sub(2)}`), 316, 230, 18);
label(col(BR, `x${sub(3)}, `) + col(PK, `x${sub(4)}`), 316, 288, 18);
label(col(DG, `x${sub(1)}, `) + col(LG, `x${sub(2)}`), 718, 245, 18);
label(col(BR, `x${sub(3)}, `) + col(PK, `x${sub(4)}`), 720, 285, 18);
</script>
</body></html>
